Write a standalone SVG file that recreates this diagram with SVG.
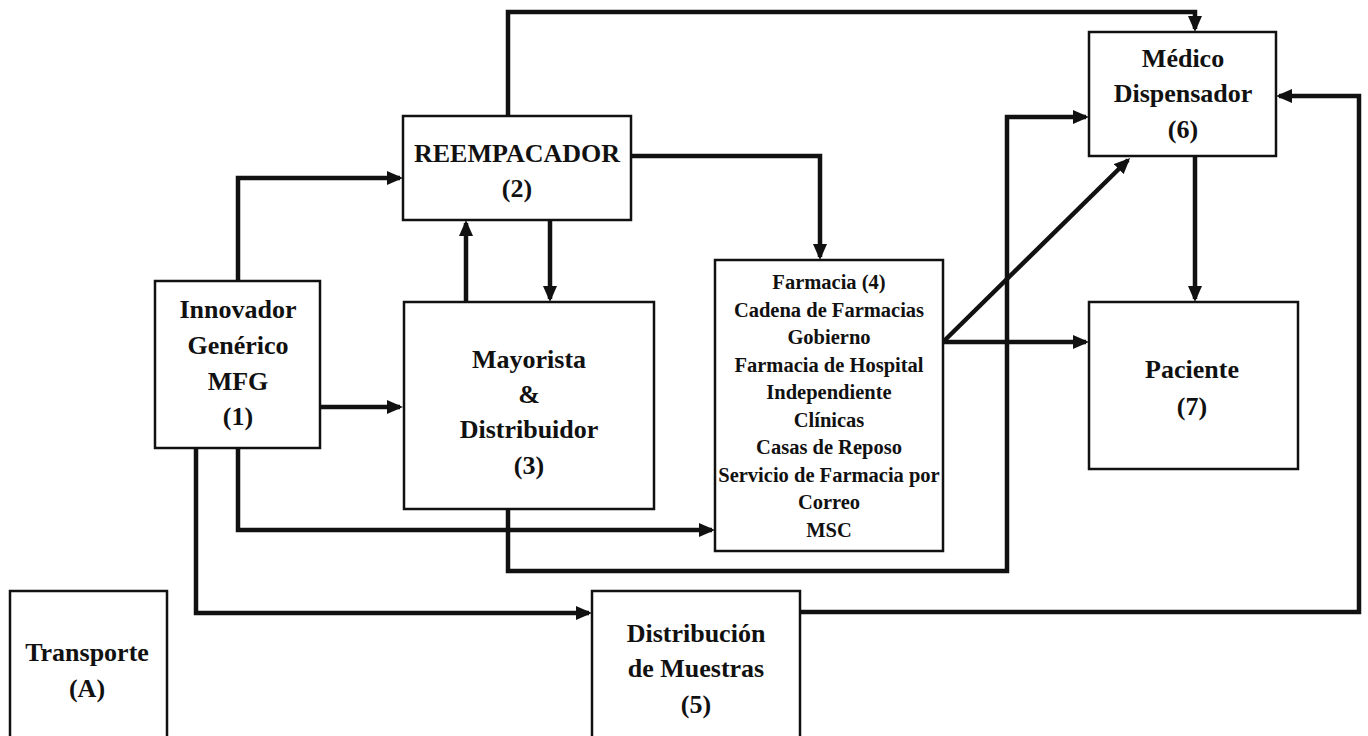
<svg xmlns="http://www.w3.org/2000/svg" width="1368" height="736" viewBox="0 0 1368 736">
<style>
.box{fill:#fff;stroke:#111;stroke-width:2.5}
.t{font-family:"Liberation Serif","Times New Roman",serif;font-weight:bold;font-size:26px;fill:#111;text-anchor:middle}
.s{font-family:"Liberation Serif","Times New Roman",serif;font-weight:bold;font-size:20.5px;fill:#111;text-anchor:middle}
.c{fill:none;stroke:#111;stroke-width:4.5;stroke-linejoin:miter}
</style>
<defs>
<marker id="ah" viewBox="0 0 16 14" markerWidth="16" markerHeight="14" refX="13" refY="7" orient="auto" markerUnits="userSpaceOnUse">
<path d="M0,0 L16,7 L0,14 z" fill="#111"/>
</marker>
</defs>
<rect width="1368" height="736" fill="#fff"/>
<g id="connectors">
<path class="c" d="M238,281 V178 H400" marker-end="url(#ah)"/>
<path class="c" d="M320,407 H400" marker-end="url(#ah)"/>
<path class="c" d="M466,302 V223" marker-end="url(#ah)"/>
<path class="c" d="M550,220 V299" marker-end="url(#ah)"/>
<path class="c" d="M508,116 V12 H1195 V29" marker-end="url(#ah)"/>
<path class="c" d="M631,156 H820 V257" marker-end="url(#ah)"/>
<path class="c" d="M238,448 V530 H712" marker-end="url(#ah)"/>
<path class="c" d="M196,448 V613 H589" marker-end="url(#ah)"/>
<path class="c" d="M508,509 V571 H1007 V117 H1086" marker-end="url(#ah)"/>
<path class="c" d="M943,342 H1086" marker-end="url(#ah)"/>
<path class="c" d="M943,342 L1128,160" marker-end="url(#ah)"/>
<path class="c" d="M1195,156 V299" marker-end="url(#ah)"/>
<path class="c" d="M800,612 H1359 V96 H1279" marker-end="url(#ah)"/>
</g>
<g id="n1">
<rect class="box" x="155" y="281" width="165" height="167"/>
<text class="t" x="238" y="318">Innovador</text>
<text class="t" x="238" y="354">Genérico</text>
<text class="t" x="238" y="390">MFG</text>
<text class="t" x="238" y="425">(1)</text>
</g>
<g id="n2">
<rect class="box" x="403" y="116" width="228" height="104"/>
<text class="t" x="517" y="162">REEMPACADOR</text>
<text class="t" x="517" y="197">(2)</text>
</g>
<g id="n3">
<rect class="box" x="404" y="302" width="250" height="207"/>
<text class="t" x="529" y="368">Mayorista</text>
<text class="t" x="529" y="403">&amp;</text>
<text class="t" x="529" y="438">Distribuidor</text>
<text class="t" x="529" y="474">(3)</text>
</g>
<g id="n4">
<rect class="box" x="715" y="260" width="228" height="291"/>
<text class="s" x="829" y="289">Farmacia (4)</text>
<text class="s" x="829" y="317">Cadena de Farmacias</text>
<text class="s" x="829" y="344">Gobierno</text>
<text class="s" x="829" y="372">Farmacia de Hospital</text>
<text class="s" x="829" y="399">Independiente</text>
<text class="s" x="829" y="427">Clínicas</text>
<text class="s" x="829" y="454">Casas de Reposo</text>
<text class="s" x="829" y="482">Servicio de Farmacia por</text>
<text class="s" x="829" y="509">Correo</text>
<text class="s" x="829" y="537">MSC</text>
</g>
<g id="n5">
<rect class="box" x="592" y="591" width="208" height="160"/>
<text class="t" x="696" y="642">Distribución</text>
<text class="t" x="696" y="677">de Muestras</text>
<text class="t" x="696" y="713">(5)</text>
</g>
<g id="n6">
<rect class="box" x="1089" y="32" width="187" height="124"/>
<text class="t" x="1183" y="67">Médico</text>
<text class="t" x="1183" y="102">Dispensador</text>
<text class="t" x="1183" y="138">(6)</text>
</g>
<g id="n7">
<rect class="box" x="1089" y="302" width="209" height="167"/>
<text class="t" x="1192" y="378">Paciente</text>
<text class="t" x="1192" y="415">(7)</text>
</g>
<g id="nA">
<rect class="box" x="10" y="591" width="157" height="160"/>
<text class="t" x="87" y="661">Transporte</text>
<text class="t" x="87" y="697">(A)</text>
</g>
</svg>
